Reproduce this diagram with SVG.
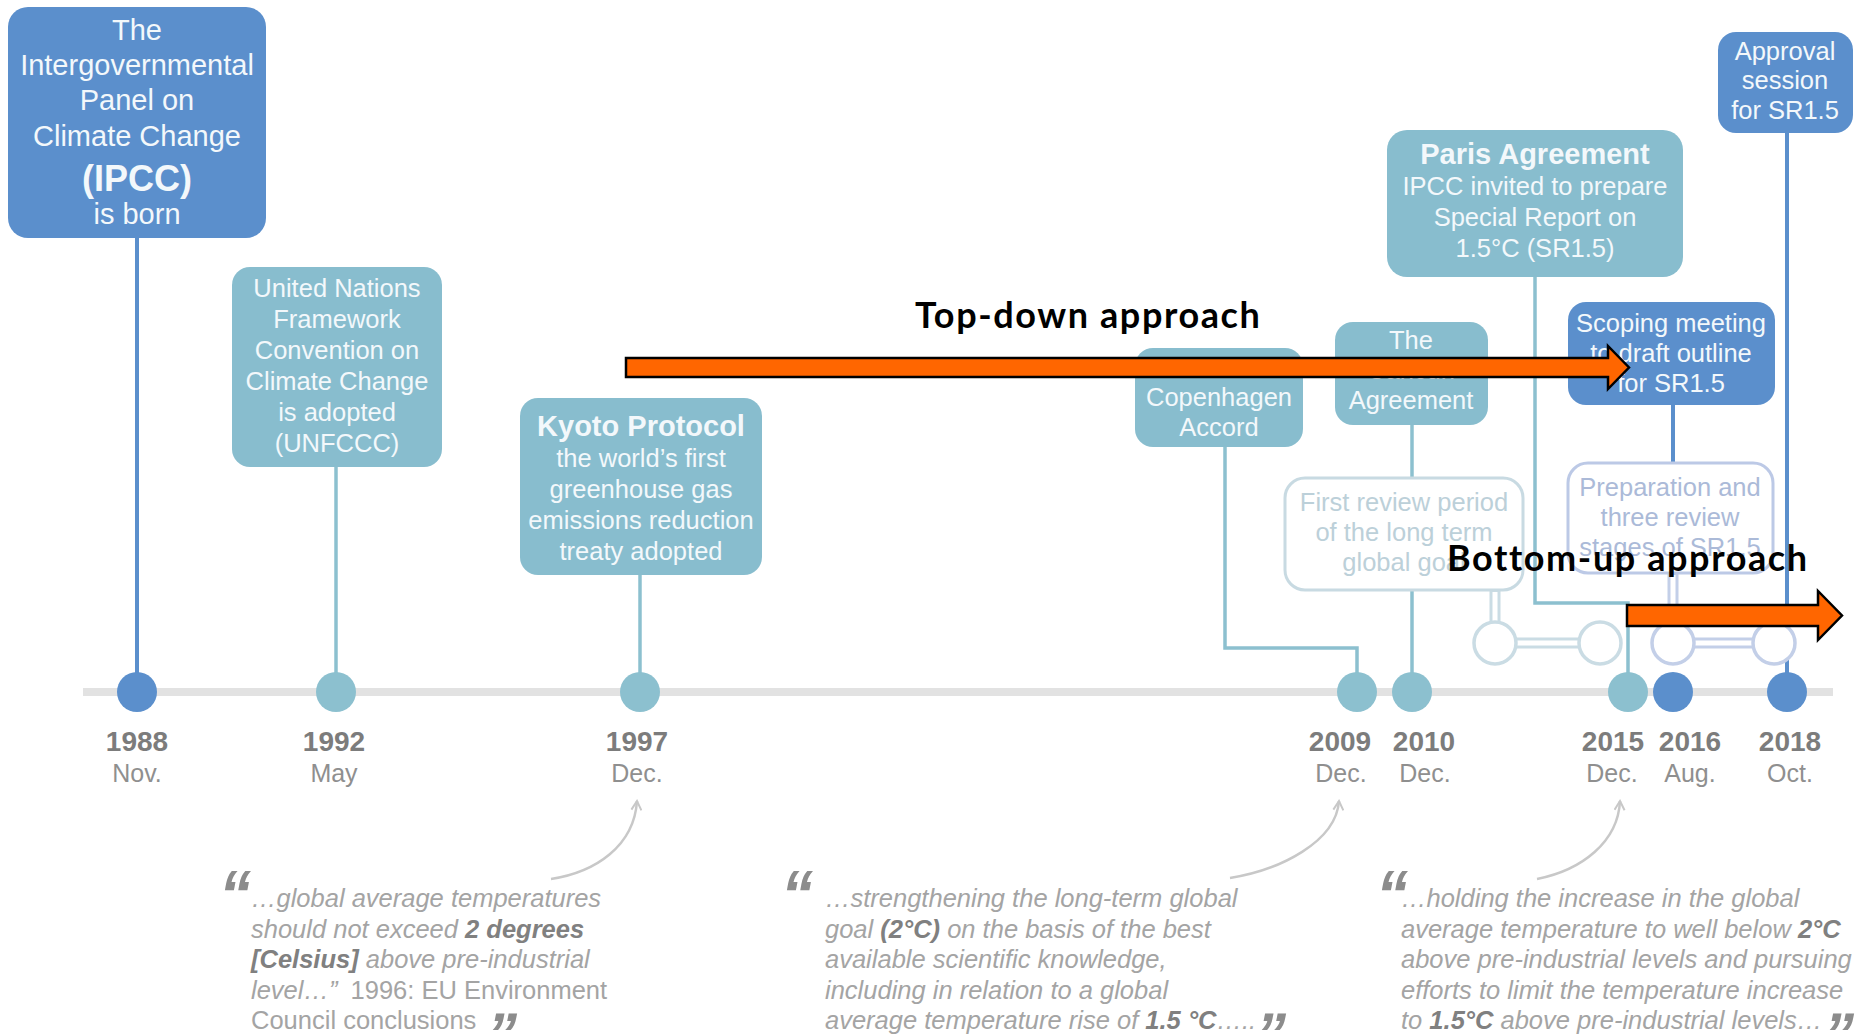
<svg xmlns="http://www.w3.org/2000/svg" width="1868" height="1035" viewBox="0 0 1868 1035">
<defs>
<style>
.bd{fill:#5b8fcc}
.bl{fill:#88bdce}
.bo{fill:#fff;stroke:#c8dae2;stroke-width:3}
.bop{fill:#fff;stroke:#bcc9e6;stroke-width:3}
.t{font-family:"Liberation Sans",Arial,sans-serif;font-size:25.5px;fill:#f3f8fb;text-anchor:middle}
.tb{font-weight:bold;font-size:29px}
.to{fill:#bcd0d9}
.tp{fill:#abbad8}
.cd{stroke:#5b8fcc;stroke-width:4;fill:none}
.cl{stroke:#8cc0cf;stroke-width:3.5;fill:none}
.bandO{stroke:#cadce4;stroke-width:11;fill:none}
.bandI{stroke:#fff;stroke-width:5;fill:none}
.bandOP{stroke:#c3cfe8;stroke-width:11;fill:none}
.oc{fill:#fff;stroke:#cadce4;stroke-width:3.5}
.ocp{fill:#fff;stroke:#c3cfe8;stroke-width:3.5}
.yr{font-family:"Liberation Sans",Arial,sans-serif;font-weight:bold;font-size:28px;fill:#7c7c7c;text-anchor:middle}
.mo{font-family:"Liberation Sans",Arial,sans-serif;font-size:25px;fill:#8f8f8f;text-anchor:middle}
.q{font-family:"Liberation Sans",Arial,sans-serif;font-style:italic;font-size:25.5px;fill:#a4a4a4}
.qb{font-weight:bold;fill:#808080}
.qn{font-style:normal}
.qm{font-family:"Liberation Sans",Arial,sans-serif;font-weight:bold;font-style:italic;font-size:64px;fill:#8c8c8c}
.qc{font-family:"Liberation Sans",Arial,sans-serif;font-weight:bold;font-style:italic;font-size:60px;fill:#8c8c8c}
.ap{font-family:Lato,"Open Sans",sans-serif;font-weight:700;font-size:36px;letter-spacing:1.6px;fill:#000}
.arr{fill:#ff6600;stroke:#000;stroke-width:2.5;stroke-linejoin:miter}
.cv{fill:none;stroke:#c8c8c8;stroke-width:2.5}
</style>
<marker id="ah" viewBox="0 0 12 12" refX="10" refY="6" markerWidth="12" markerHeight="12" markerUnits="userSpaceOnUse" orient="auto">
<path d="M1,1 L10,6 L1,11" fill="none" stroke="#c8c8c8" stroke-width="2"/>
</marker>
</defs>
<rect width="1868" height="1035" fill="#fff"/>

<line x1="83" y1="692" x2="1833" y2="692" stroke="#e2e2e2" stroke-width="8"/>

<g id="connectors">
<line class="cd" x1="137" y1="237" x2="137" y2="692"/>
<line class="cl" x1="336" y1="467" x2="336" y2="692"/>
<line class="cl" x1="640" y1="575" x2="640" y2="692"/>
<path class="cl" d="M1225,447 V648 H1357 V692"/>
<line class="cl" x1="1412" y1="425" x2="1412" y2="478"/>
<line class="cl" x1="1412" y1="590" x2="1412" y2="692"/>
<path class="cl" d="M1535,277 V603 H1628 V692"/>
<line class="cd" x1="1673" y1="405" x2="1673" y2="463"/>
<line class="cd" x1="1787" y1="133" x2="1787" y2="692"/>
<path class="bandO" d="M1495,590 V625 M1513,643 H1582"/>
<path class="bandI" d="M1495,592 V625 M1513,643 H1582"/>
<path class="bandOP" d="M1673,573 V623 M1693,643 H1754"/>
<path class="bandI" d="M1673,575 V623 M1693,643 H1754"/>
<circle class="oc" cx="1495" cy="643" r="21"/>
<circle class="oc" cx="1600" cy="643" r="21"/>
<circle class="ocp" cx="1673" cy="643" r="21"/>
<circle class="ocp" cx="1774" cy="643" r="21"/>
<path class="cv" d="M551,879 C596,872 634,846 637,801" marker-end="url(#ah)"/>
<path class="cv" d="M1230,878 C1280,870 1336,842 1339,801" marker-end="url(#ah)"/>
<path class="cv" d="M1537,879 C1582,870 1618,842 1620,801" marker-end="url(#ah)"/>
</g>

<g id="n-ipcc">
<rect class="bd" x="8" y="7" width="258" height="231" rx="20"/>
<text class="t" style="font-size:29px" x="137"><tspan x="137" y="40">The</tspan><tspan x="137" y="75">Intergovernmental</tspan><tspan x="137" y="110">Panel on</tspan><tspan x="137" y="146">Climate Change</tspan><tspan x="137" y="191" style="font-weight:bold;font-size:36px">(IPCC)</tspan><tspan x="137" y="224">is born</tspan></text>
</g>
<g id="n-unfccc">
<rect class="bl" x="232" y="267" width="210" height="200" rx="18"/>
<text class="t"><tspan x="337" y="297">United Nations</tspan><tspan x="337" y="328">Framework</tspan><tspan x="337" y="359">Convention on</tspan><tspan x="337" y="390">Climate Change</tspan><tspan x="337" y="421">is adopted</tspan><tspan x="337" y="452">(UNFCCC)</tspan></text>
</g>
<g id="n-kyoto">
<rect class="bl" x="520" y="398" width="242" height="177" rx="18"/>
<text class="t"><tspan class="tb" x="641" y="436">Kyoto Protocol</tspan><tspan x="641" y="467">the world’s first</tspan><tspan x="641" y="498">greenhouse gas</tspan><tspan x="641" y="529">emissions reduction</tspan><tspan x="641" y="560">treaty adopted</tspan></text>
</g>
<g id="n-copenhagen">
<rect class="bl" x="1135" y="348" width="168" height="99" rx="18"/>
<text class="t"><tspan x="1219" y="376">The</tspan><tspan x="1219" y="406">Copenhagen</tspan><tspan x="1219" y="436">Accord</tspan></text>
</g>
<g id="n-cancun">
<rect class="bl" x="1335" y="322" width="153" height="103" rx="18"/>
<text class="t"><tspan x="1411" y="349">The</tspan><tspan x="1411" y="379">Cancun</tspan><tspan x="1411" y="409">Agreement</tspan></text>
</g>
<g id="n-review">
<rect class="bo" x="1285" y="478" width="238" height="112" rx="20"/>
<text class="t to"><tspan x="1404" y="511">First review period</tspan><tspan x="1404" y="541">of the long term</tspan><tspan x="1404" y="571">global goal</tspan></text>
</g>
<g id="n-paris">
<rect class="bl" x="1387" y="130" width="296" height="147" rx="20"/>
<text class="t"><tspan class="tb" x="1535" y="164">Paris Agreement</tspan><tspan x="1535" y="195">IPCC invited to prepare</tspan><tspan x="1535" y="226">Special Report on</tspan><tspan x="1535" y="257">1.5°C (SR1.5)</tspan></text>
</g>
<g id="n-approval">
<rect class="bd" x="1718" y="32" width="135" height="101" rx="18"/>
<text class="t"><tspan x="1785" y="60">Approval</tspan><tspan x="1785" y="89">session</tspan><tspan x="1785" y="119">for SR1.5</tspan></text>
</g>
<g id="n-scoping">
<rect class="bd" x="1568" y="302" width="207" height="103" rx="18"/>
<text class="t"><tspan x="1671" y="332">Scoping meeting</tspan><tspan x="1671" y="362">to draft outline</tspan><tspan x="1671" y="392">for SR1.5</tspan></text>
</g>
<g id="n-preparation">
<rect class="bop" x="1568" y="463" width="205" height="110" rx="20"/>
<text class="t tp"><tspan x="1670" y="496">Preparation and</tspan><tspan x="1670" y="526">three review</tspan><tspan x="1670" y="556">stages of SR1.5</tspan></text>
</g>

<g id="dates">
<g id="d1988"><circle cx="137" cy="692" r="20" fill="#5b8fcc"/><text class="yr" x="137" y="751">1988</text><text class="mo" x="137" y="782">Nov.</text></g>
<g id="d1992"><circle cx="336" cy="692" r="20" fill="#8cc0cf"/><text class="yr" x="334" y="751">1992</text><text class="mo" x="334" y="782">May</text></g>
<g id="d1997"><circle cx="640" cy="692" r="20" fill="#8cc0cf"/><text class="yr" x="637" y="751">1997</text><text class="mo" x="637" y="782">Dec.</text></g>
<g id="d2009"><circle cx="1357" cy="692" r="20" fill="#8cc0cf"/><text class="yr" x="1340" y="751">2009</text><text class="mo" x="1341" y="782">Dec.</text></g>
<g id="d2010"><circle cx="1412" cy="692" r="20" fill="#8cc0cf"/><text class="yr" x="1424" y="751">2010</text><text class="mo" x="1425" y="782">Dec.</text></g>
<g id="d2015"><circle cx="1628" cy="692" r="20" fill="#8cc0cf"/><text class="yr" x="1613" y="751">2015</text><text class="mo" x="1612" y="782">Dec.</text></g>
<g id="d2016"><circle cx="1673" cy="692" r="20" fill="#5b8fcc"/><text class="yr" x="1690" y="751">2016</text><text class="mo" x="1690" y="782">Aug.</text></g>
<g id="d2018"><circle cx="1787" cy="692" r="20" fill="#5b8fcc"/><text class="yr" x="1790" y="751">2018</text><text class="mo" x="1790" y="782">Oct.</text></g>
</g>

<g id="quote1">
<text class="qm" x="219" y="916">“</text>
<text class="q"><tspan x="251" y="907">…global average temperatures</tspan><tspan x="251" y="938">should not exceed <tspan class="qb">2 degrees</tspan></tspan><tspan x="251" y="968"><tspan class="qb">[Celsius]</tspan> above pre-industrial</tspan><tspan x="251" y="999">level…”  <tspan class="qn" dx="6">1996: EU Environment</tspan></tspan><tspan x="251" y="1029" class="qn">Council conclusions</tspan></text>
<text class="qc" x="493" y="1021">„</text>
</g>
<g id="quote2">
<text class="qm" x="781" y="916">“</text>
<text class="q"><tspan x="825" y="907">…strengthening the long-term global</tspan><tspan x="825" y="938">goal <tspan class="qb">(2°C)</tspan> on the basis of the best</tspan><tspan x="825" y="968">available scientific knowledge,</tspan><tspan x="825" y="999">including in relation to a global</tspan><tspan x="825" y="1029">average temperature rise of <tspan class="qb">1.5 °C</tspan>…..</tspan></text>
<text class="qc" x="1262" y="1021">„</text>
</g>
<g id="quote3">
<text class="qm" x="1376" y="916">“</text>
<text class="q"><tspan x="1401" y="907">…holding the increase in the global</tspan><tspan x="1401" y="938">average temperature to well below <tspan class="qb">2°C</tspan></tspan><tspan x="1401" y="968">above pre-industrial levels and pursuing</tspan><tspan x="1401" y="999">efforts to limit the temperature increase</tspan><tspan x="1401" y="1029">to <tspan class="qb">1.5°C</tspan> above pre-industrial levels…</tspan></text>
<text class="qc" x="1830" y="1021">„</text>
</g>

<g id="topdown">
<polygon class="arr" points="626,358 1608,358 1608,346 1629,367.5 1608,389 1608,377 626,377"/>
<text class="ap" x="915" y="328">Top-down approach</text>
</g>
<g id="bottomup">
<polygon class="arr" points="1627,605 1818,605 1818,591 1842,615.5 1818,640 1818,626 1627,626"/>
<text class="ap" x="1447" y="571">Bottom-up approach</text>
</g>
</svg>
